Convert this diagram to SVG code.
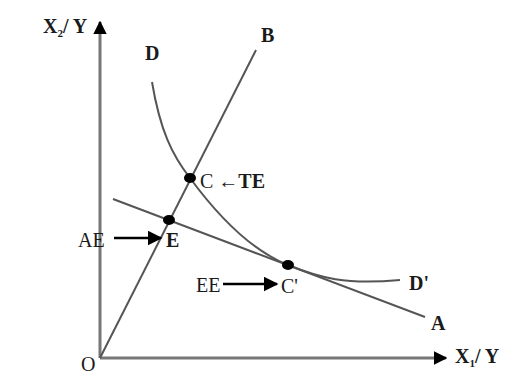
<svg xmlns="http://www.w3.org/2000/svg" width="515" height="374" viewBox="0 0 515 374">
<style>
text{font-family:"Liberation Serif","Times New Roman",serif;font-size:20px;fill:#1a1a1a}
.b{font-weight:bold}
.ax{stroke:#777;stroke-width:3;fill:none}
.ln{stroke:#555;stroke-width:2;fill:none}
.pt{fill:#000}
.ar{stroke:#000;stroke-width:2.5;fill:none}
</style>
<defs>
<marker id="ah" viewBox="0 0 10 10" refX="9" refY="5" markerWidth="4.5" markerHeight="4.5" orient="auto" markerUnits="strokeWidth"><path d="M0,0L10,5L0,10z" fill="#000"/></marker>
<marker id="ah2" viewBox="0 0 10 10" refX="9" refY="5" markerWidth="6" markerHeight="6" orient="auto" markerUnits="strokeWidth"><path d="M0,0L10,5L0,10z" fill="#000"/></marker>
</defs>
<rect width="515" height="374" fill="#fff"/>
<g id="connectors">
<line class="ax" x1="100" y1="358" x2="100" y2="22" marker-end="url(#ah)"/>
<line class="ax" x1="100" y1="358" x2="446" y2="358" marker-end="url(#ah)"/>
<line class="ln" x1="100" y1="358" x2="256" y2="50"/>
<line class="ln" x1="113" y1="199" x2="425" y2="317"/>
<path class="ln" d="M152,82 C160,130 172,155 190,178 C215,212 250,250 288,265 C320,278 345,285 400,280"/>
<line class="ar" x1="114" y1="238" x2="161" y2="238" marker-end="url(#ah2)"/>
<line class="ar" x1="223" y1="284" x2="277" y2="284" marker-end="url(#ah2)"/>
</g>
<g id="C"><ellipse class="pt" cx="190" cy="178" rx="6" ry="5"/><text x="200" y="188">C ←<tspan class="b">TE</tspan></text></g>
<g id="E"><ellipse class="pt" cx="169" cy="220" rx="6" ry="5"/><text class="b" x="166" y="247">E</text></g>
<g id="Cp"><ellipse class="pt" cx="288" cy="265" rx="6" ry="5"/><text x="281" y="293">C'</text></g>
<g id="labels">
<text class="b" x="43" y="33">X<tspan font-size="11" dy="4">2</tspan><tspan dy="-4">/ Y</tspan></text>
<text class="b" x="455" y="363">X<tspan font-size="11" dy="4">1</tspan><tspan dy="-4">/ Y</tspan></text>
<text x="81" y="371">O</text>
<text class="b" x="145" y="60">D</text>
<text class="b" x="261" y="42">B</text>
<text class="b" x="409" y="290">D'</text>
<text class="b" x="431" y="330">A</text>
<text x="78" y="247">AE</text>
<text x="196" y="292">EE</text>
</g>
</svg>
